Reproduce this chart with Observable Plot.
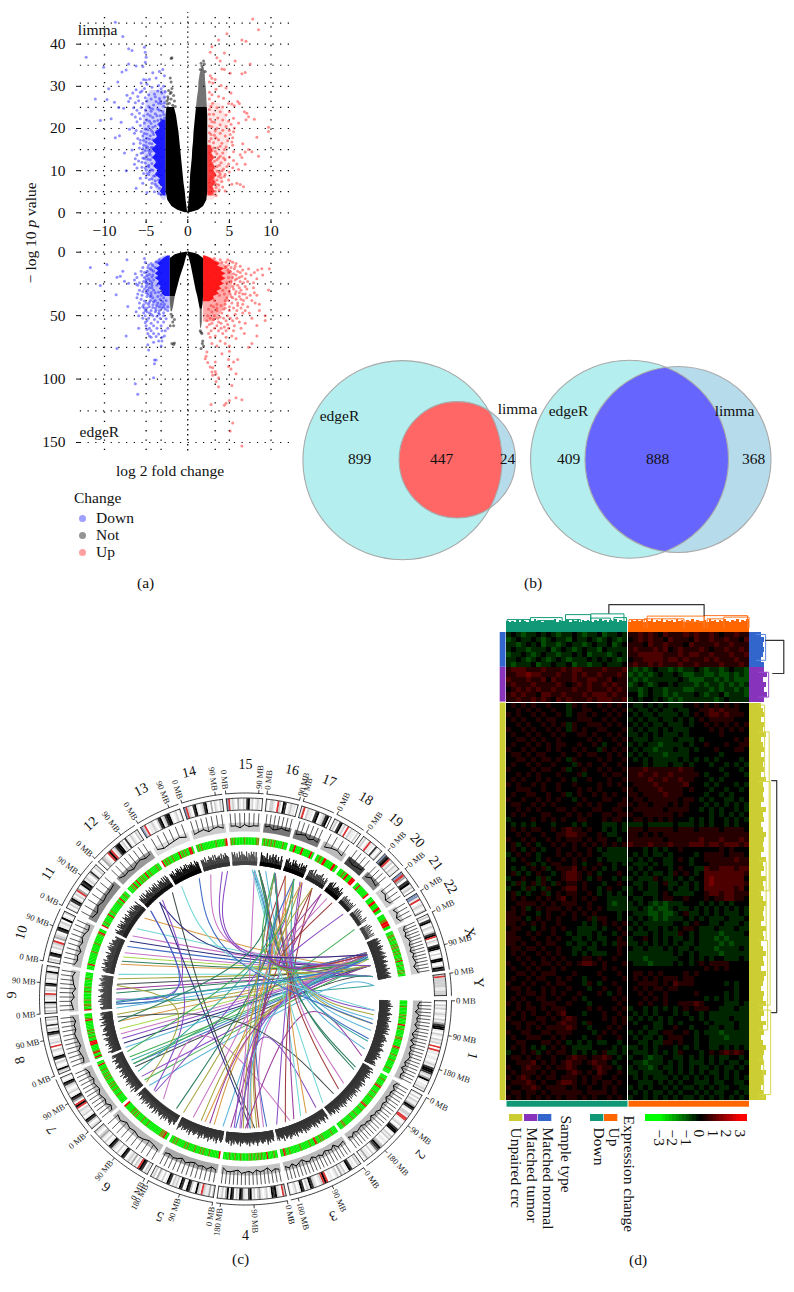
<!DOCTYPE html>
<html><head><meta charset="utf-8">
<script src="https://cdn.jsdelivr.net/npm/d3@7"></script>
<script src="https://cdn.jsdelivr.net/npm/@observablehq/plot@0.6"></script>
<style>
html,body{margin:0;padding:0;background:#fff}
#root{position:relative;width:794px;height:1292px;overflow:hidden;font-family:"Liberation Serif",serif;color:#111}
#root svg{position:absolute;overflow:visible}
.t{position:absolute;font-size:15.5px;white-space:nowrap;line-height:1}
.sw{position:absolute;width:7px;height:7px;border-radius:50%}
</style></head><body><div id="root"></div>
<script>
/* ---------- panel (a): volcano values ---------- */
const xTicks=[-10,-5,0,5,10];
const xGrid=[-10,-5,-3.2,3.3,5,10];
const limmaTicks=[0,10,20,30,40];
const limmaGrid=[0,5,10,15,20,25,30,35,40,45];
const edgeTicks=[0,50,100,150];
const edgeGrid=[0,25,50,75,100,125,150];

const limmaNotY=[0,0.6,1.5,3,5,7,9,11,13,15,17,19,21,23,25];
const limmaNotL1=[-0.3,-1.2,-1.9,-2.4,-2.6,-2.6,-2.6,-2.6,-2.6,-2.6,-2.6,-2.6,-2.6,-2.6,-2.5];
const limmaNotL2=[0,-0.05,-0.1,-0.2,-0.3,-0.45,-0.55,-0.65,-0.75,-0.85,-0.95,-1.05,-1.2,-1.35,-1.6];
const limmaNotR1=[0,0.05,0.1,0.15,0.25,0.3,0.35,0.45,0.55,0.6,0.7,0.75,0.85,0.95,1.05];
const limmaNotR2=[0.3,1.3,1.9,2.3,2.4,2.4,2.4,2.4,2.4,2.4,2.4,2.4,2.4,2.4,2.35];
const limmaNotTopY=[25,27,29,31,33,34.5];
const limmaNotTopL=[1.05,1.15,1.3,1.35,1.5,1.75];
const limmaNotTopR=[2.35,2.3,2.25,2.15,2.1,1.95];
const limmaNotSparse=[[-1.9,36.8],[-2,36.6],[-2.1,32],[-2,31],[-1.9,29.5],[-2.3,29],[-2.1,28.3],[-2.4,27.5],[-2,27],[-1.6,26.5],[-2.2,26],[-1.8,25.5],[-1.5,25.2],[-2.4,25],[-1.9,24.5],[-2.1,24],[-2.5,26.5],[-2.3,24.5],[-2,28.6],[-1.7,27.8],[-2.35,27],[-2.45,25.8],[1.6,35.5],[1.9,36],[1.7,34.8],[2,35.3],[1.5,34],[2.1,33.5]];
const limmaBlueOuterY=[3,5,8,11,14,17,20,23,26,29];
const limmaBlueOuterX=[-3,-3.6,-4.4,-5,-5.3,-5.4,-5.4,-5.2,-5,-4.5];
const limmaBlueCoreY=[4,5,6,7,8,9,10,11,12,13,14,15,16,17,18,19,20,21,22];
const limmaBlueCoreX=[-2.9,-3.3,-3,-3.5,-3.3,-3.9,-3.5,-4.1,-3.7,-4.2,-3.8,-4.3,-3.7,-4.2,-3.6,-3.9,-3.3,-3.5,-3];
const limmaRedOuterY=[3,5,8,11,14,17,20,23,26];
const limmaRedOuterX=[3.1,3.8,4.3,4.6,4.8,5,5,4.6,3.9];
const limmaRedCoreY=[4,5,6,7,8,9,10,11,12,13,14,15,16];
const limmaRedCoreX=[2.9,3.3,3,3.4,3.1,3.5,3.1,3.3,2.9,3.2,2.9,3,2.7];
const limmaDown=[[-12.2,36.9],[-11.1,27],[-10.1,34.5],[-10.5,21.9],[-8.7,45.2],[-7.8,41.8],[-7.1,38.9],[-6.7,38.5],[-5.2,39.3],[-5.1,38.1],[-5,36.9],[-5.1,35.7],[-7.1,35.3],[-7.9,33.4],[-7.4,33.9],[-8.4,31],[-9.5,29.4],[-9.7,26.9],[-8.8,26.2],[-8.3,25],[-9.2,22.3],[-8,21.5],[-8.2,18.3],[-8.7,17.8],[-7.4,10],[-7.6,14.2],[-6.2,34.8],[-5.4,34.7],[-3.0,34],[-3.4,33.5],[-2.8,32.5],[-4.2,33.2],[-3.8,32],[-4.6,31.7],[-5.0,31.5],[-5.3,31.6],[-5.6,30.8],[-4.9,30.5],[-3.5,30.2],[-2.9,30],[-4.3,29.8],[-5.2,29.5],[-6.2,29.2],[-5.7,28.6],[-3.1,28.4],[-4,28.2],[-4.7,28],[-6.6,28.4],[-7.3,27.9],[-6.9,27.2],[-6,27.6],[-5.1,27.3],[-5.9,26.6],[-4.4,27],[-3.4,27.1],[-3.8,26.4],[-2.8,27.4],[-4.9,26.5],[-6.3,26.1],[-7.1,26.4],[-5.4,25.9],[-4.1,25.6],[-3.2,25.9],[-2.9,25.3],[-4.7,25.2],[-5.6,25],[-6.5,24.9],[-7.7,24.8],[-6.1,24.3],[-5.1,24.4],[-3.6,24.6],[-4.4,24.1],[-3,24],[-5.8,23.6],[-6.7,23.4],[-4.8,23.4],[-3.9,23.5],[-5.3,23],[-6.3,22.7],[-3.3,23],[-4.2,22.6],[-5.7,22.3],[-2.8,22.5],[-4.9,22],[-3.6,21.9],[-6.1,21.6],[-5.2,21.3],[-4.4,21.2],[-3.1,21.4],[-5.7,20.7],[-6.6,20.2],[-7,19.8],[-4.7,20.5],[-3.9,20.6],[-5.1,19.9],[-6.2,19.5],[-5.6,19.3],[-4.4,19.6],[-6.4,18.9],[-4.9,18.7],[-5.4,18.2],[-4.1,18.6],[-6,17.6],[-5.7,17.2],[-4.6,17.5],[-5,16.8],[-6.5,16.4],[-5.3,16],[-4.3,16.4],[-5.8,15.4],[-4.8,15.5],[-6.7,14.9],[-5.1,14.8],[-4.4,14.6],[-5.6,14.1],[-6.1,13.7],[-4.9,13.5],[-5.4,13],[-6.3,12.8],[-4.5,12.6],[-5.9,12.3],[-5.1,11.8],[-6.4,11.5],[-4.7,11.3],[-6.1,10.6],[-5.5,10.8],[-5,10.1],[-4.4,10.2],[-5.3,9.3],[-4.7,9],[-4.1,8.7],[-5.7,8.2],[-4.6,7.9],[-3.9,7.6],[-4.3,7],[-6.2,5.8],[-3.7,6.3],[-3.4,5.8],[-4.9,4.8],[-4,5],[-3.5,4.6],[-3.2,4.3],[-4.4,6],[-4.5,13.7],[-4.2,15.5],[-3.9,27.5],[-5.5,28.9],[-4.5,24.8],[-3.3,26.5],
[-3.6,28.9],[-3.2,29.4],[-2.7,28.7],[-3.5,26],[-2.8,26.1],[-4.2,24.6],[-3.4,24.3],[-2.9,23.3],[-3.7,23],[-4.5,23],[-3.2,22.2],[-4,21.7],[-4.6,21.7],[-3.5,21],[-2.8,20.9],[-4.2,20.3],[-3.2,20],[-4.8,19.7],[-3.7,19.4],[-4.2,19.1],[-2.9,19.4],[-5.2,18.8],[-4.5,18.3],[-3.6,18.2],[-3.1,18.7],[-4.9,17.7],[-4.2,17.4],[-5.3,17.2],[-3.9,17],[-4.6,16.5],[-5.7,16.5],[-3.5,16.3],[-5,15.9],[-4.4,15.5],[-3.8,15.8],[-5.4,15.2],[-4.7,14.8],[-4,14.7],[-5.4,14.3],[-4.6,14.1],[-5.2,12.9],[-4.2,13.2],[-4.8,12.7],[-3.8,12.3],[-5.5,12],[-4.3,11.7],[-4.7,10.9],[-3.8,10.9],[-5.1,10.6],[-4.2,10.1],[-4.6,9.7],[-3.6,9.5],[-4.9,9.3],[-3.9,8.8],[-5,8.3],[-4.3,8.1],[-3.5,7.8],[-3.9,6.8],[-5.4,7],[-3.1,7]];
const limmaUp=[[7.8,46],[8.5,43.4],[4.7,42.5],[3.7,41],[6.5,41],[7,40.7],[2.9,39.4],[2.7,38.1],[4.4,37.9],[3.5,36.8],[3.9,36],[5.7,36],[7.5,35.3],[4.1,34.1],[4.4,34],[5.1,33.1],[6.5,33],[6.9,33.3],[2.7,32.5],[2.9,31.9],[3.3,31.6],[2.6,31],[3,30.8],[4,30.2],[4.6,29.6],[3.4,29.3],[2.6,28.6],[5.2,28.4],[2.9,28],[3.7,27.6],[4.3,27.2],[2.6,27],[6,26.4],[6.2,25.9],[5.3,25.8],[5.6,25.4],[3,26],[4.9,25.9],[2.8,25.3],[3.5,24.9],[4.2,25.1],[2.6,24.5],[6.8,24],[7.1,23.6],[5,24],[3.9,24],[3.1,23.4],[4.6,23.2],[7.3,22.8],[7,22.1],[3.6,22.5],[5.5,22.4],[2.7,22.2],[4.2,22],[4.9,21.7],[6.1,21.3],[3.2,21.5],[8,22.2],[5.2,21],[3.9,20.9],[4.6,20.5],[2.9,20.4],[5.6,20.1],[3.5,20],[4.2,19.6],[5,19.5],[9.7,20.3],[9.7,19.3],[5.5,19.2],[2.6,19],[3.9,18.9],[5.1,18.6],[3.2,18.4],[4.5,18.2],[5.4,17.8],[8.3,17.9],[2.8,17.6],[3.7,17.3],[4.8,17.1],[5.3,16.8],[3.1,16.6],[4.1,16.5],[6.6,16.4],[5.4,16],[2.7,15.8],[3.6,15.4],[4.6,15.6],[7.3,15],[7.7,14.5],[6.9,14.4],[5.5,14.5],[3.3,14.6],[4.2,14.2],[6.3,13.8],[8.5,13.4],[2.8,13.6],[5,13.2],[3.7,13],[6.5,13.1],[4.5,12.6],[5.5,12.4],[3.2,12.2],[4,11.9],[5.9,11.6],[4.9,11.6],[6.9,11.5],[3.5,11],[2.7,11.2],[5.4,10.7],[4.3,10.4],[6.1,10.3],[3,10],[3.8,9.6],[5,9.7],[4.5,9.1],[3.3,8.9],[2.8,8.6],[4,8.3],[3.5,7.8],[4.9,7.8],[5.9,7],[5.3,6.8],[6.7,6.2],[6.3,6.7],[3,6.9],[3.7,6.6],[4.2,6.1],[2.9,5.8],[3.3,5.1],[3.8,5.4],[2.6,4.9],[3,4.4],[3.4,4.1],[4.5,5.2],
[2.6,23.4],[2.9,21.6],[2.6,20.6],[3.3,19.4],[2.8,18.6],[3.4,17.8],[2.6,17],[3.1,15.4],[3.9,15.8],[2.9,14.7],[3.5,14],[4.4,15],[2.6,14.2],[3.1,13.2],[3.9,13.4],[2.7,12.5],[4.3,13],[3.5,12.6],[2.9,11.8],[3.8,11.3],[4.7,11],[3.2,10.6],[4.1,10],[3.5,9.9],[2.7,9.9],[3.1,9.3],[3.9,9.1],[4.4,8.6],[2.7,8],[3.1,8.2],[3.7,8.6],[3.2,7.4],[2.6,7.2],[4.1,7.4],[3.4,6.8],[2.7,6.2],[3.4,6]];

const edgeNotLY=[0,1,2,5,10,20,30,35];
const edgeNotL1=[-0.2,-1,-1.5,-2.1,-2.1,-2.1,-2.1,-2.1];
const edgeNotL2=[0,-0.03,-0.05,-0.2,-0.4,-0.9,-1.3,-1.5];
const edgeNotLTaperY=[35,39,43,47];
const edgeNotLTaperA=[-2.1,-2.1,-2.05,-2];
const edgeNotLTaperB=[-1.5,-1.6,-1.7,-1.85];
const edgeNotRY=[0,1,2,5,10,20,30,35,40,45];
const edgeNotR1=[0,0.03,0.05,0.2,0.4,0.7,1,1.2,1.35,1.5];
const edgeNotR2=[0.2,0.9,1.3,1.9,1.9,1.9,1.9,1.9,1.85,1.75];
const edgeNotRTaperY=[45,50,55,60];
const edgeNotRTaperA=[1.5,1.5,1.5,1.55];
const edgeNotRTaperB=[1.75,1.75,1.75,1.65];
const edgeNotSparse=[[-1.9,72],[-1.7,72.8],[-1.6,71.5],[-2.1,58],[-1.7,58],[-1.8,55],[-1.9,51],[-1.6,53],[-2,49],[1.75,72],[1.6,76],[1.8,70],[1.9,74],[1.6,63],[1.5,62],[1.7,64]];
const edgeBlueOuterY=[3,5,10,15,20,25,30,35,40,45];
const edgeBlueOuterX=[-2.7,-3.4,-4.3,-4.9,-5.1,-5.1,-5,-4.7,-4.2,-3.6];
const edgeBlueCoreY=[3,5,7,9,11,13,15,17,19,21,23,25,27,29,31,33,35];
const edgeBlueCoreX=[-2.4,-2.9,-3.2,-3.6,-3.3,-3.8,-3.5,-3.9,-3.5,-3.8,-3.4,-3.6,-3.2,-3.4,-3,-3.1,-2.7];
const edgeRedOuterY=[3,5,10,15,20,25,30,35,40,45,50,55];
const edgeRedOuterX=[2.2,3,4.5,5.3,5.5,5.4,5.2,5,4.7,4.3,3.8,3.2];
const edgeRedCoreY=[3,5,7,9,11,13,15,17,19,21,23,25,27,29,31,33,35,37,39];
const edgeRedCoreX=[2.1,2.8,3.2,3.9,3.6,4.4,4,4.6,4.1,4.6,4,4.4,3.8,4.1,3.5,3.8,3.1,3.2,2.6];
const edgeDown=[[-11.7,12],[-9.7,9.7],[-7.3,6],[-10.5,26.2],[-7.8,15],[-8.5,19.7],[-8.1,18.9],[-7.6,22.8],[-7.1,24.4],[-8.6,33.6],[-7.2,42.8],[-7.4,66],[-8.5,76],[-5.9,60],[-6.3,103.7],[-6,112],[-4.1,99],[-4,85],[-3.8,85],[-4,88],[-4.8,73],[-4.7,77],[-3.2,74],[-5.2,5],[-5.1,8],[-4.7,10],[-5.4,12],[-4.5,13],[-5.6,15],[-4.9,15],[-6.3,17],[-5.5,18],[-4.6,17.5],[-5.2,20],[-6.1,20],[-6.4,22],[-4.7,21],[-5.8,24],[-5,24],[-6,26],[-6.2,25],[-4.3,26],[-5.5,27],[-5.2,29],[-4.6,28],[-5.8,30],[-6,33],[-5,32],[-4.4,32],[-5.5,34],[-4.9,35],[-6.1,36],[-4.2,36],[-5.6,37],[-5.2,38.5],[-4.5,38],[-3.9,38],[-5,40],[-5.8,40],[-4.7,41],[-4.2,41.5],[-5.4,43],[-3.7,42],[-4.9,44],[-3.2,41],[-5.8,44],[-5.1,46],[-4.4,46],[-3.8,45.5],[-6.2,47],[-5.3,48],[-4.6,48],[-3.5,48],[-2.7,45],[-2.4,43],[-5.1,50],[-5.9,50],[-4.2,50],[-3.7,50.5],[-2.9,50],[-5.4,52],[-4.7,52],[-3.3,52],[-2.6,52.5],[-4,53],[-4.9,54],[-5.1,55.5],[-3.6,55],[-2.9,55],[-4.4,56],[-5,58],[-4.1,58],[-3.2,58],[-2.4,60],[-4.6,60],[-3.7,60],[-4.9,61],[-4.4,62],[-3.1,62],[-2.7,62],[-4.8,64],[-4.1,64],[-3.5,64.5],[-4.4,67],[-3.8,66.5],[-4.6,66],[-3.1,67],[-2.8,66],[-3.5,70],[-4.1,71],[-3.1,70],[-4.1,30],[-3.9,32],[-3.6,35],[-3.3,37],[-3,39],[-2.6,38],[-3.8,20],[-4.1,22],[-4.3,24],[-4.2,18],[-4.1,15],[-3.9,12],[-3.6,8],[-3.4,6],[-4.4,9],[-4.8,25],[-3.7,26],[-3.1,44],[-3.4,46],[-2.8,41],[-3.9,47],[-4.2,43.5],[-4.6,43],[-5.3,41.5],[-2.4,46],[-2.9,47.8],[-4.5,35],[-5.4,31],
[-3.4,49],[-4.4,49],[-4.9,47],[-3.9,44],[-3.4,43],[-2.9,43],[-5.2,44],[-4.6,39.5],[-3.6,40],[-2.9,36],[-4.1,39],[-3.2,34],[-4.4,34],[-4.8,33],[-3.5,31.5],[-4.8,30],[-4.3,28],[-5,27],[-4.5,22.5],[-5,22],[-5.3,23],[-4.3,19.5],[-4.9,18.5],[-5.2,16],[-4.3,14],[-4.8,12],[-4.2,10.5],[-3.8,7.5]];
const edgeUp=[[6.5,152.8],[5.1,141],[5.4,134.6],[2.8,120],[4.4,120.7],[4.6,119],[5,116.8],[5.8,114.7],[6.5,116.3],[3.7,106],[5.3,105],[5.8,95.8],[3.7,99],[3.3,94],[2.9,94.5],[2.7,90.5],[3,91],[2.1,84],[2.3,78.7],[2.2,82],[2.4,87],[3.3,86.6],[6,84.5],[5.5,86.6],[4.9,84.5],[4.1,80],[5,78],[7.3,75],[7.7,72],[3.4,96],[3,97],[3.4,102],[5.2,92],[4.9,90],[3.5,74],[2.9,72],[3.9,70],[4.5,72],[5,74],[4.6,67],[3.3,66],[2.5,64],[2.7,67],[4.2,64],[5.3,66],[5.8,68],[4,60],[3.2,60],[2.3,59],[4.9,60],[5.6,58],[6.4,60],[6.8,64],[8.3,66],[8.3,57.7],[9.3,50],[9.3,53.8],[7.7,52],[6.9,56],[6.2,55],[5.4,54],[4.6,54],[3.7,55],[2.9,56],[2.3,54],[7.4,48],[8.6,46],[6.6,48],[5.7,49],[4.8,50],[3.9,51],[3.2,50],[2.4,50],[6.4,44],[7.2,43],[5.5,44],[4.3,45],[3.5,46],[2.5,45],[9.7,29.7],[8.6,41],[8.1,40],[7.7,38],[6.7,38],[6,40],[5.3,40],[4.5,41],[8.3,34],[8,32],[7.5,34],[6.9,33],[6.2,35],[5.4,36],[4.7,36],[3.5,44],[7.1,29],[7.9,28],[6.4,30],[5.8,31],[5,31],[7.9,24],[8.3,21],[9,18],[8.9,13],[9.8,13],[8.4,14],[8,16],[7.6,18],[7.2,23],[6.7,24],[6,26],[5.4,27],[7,17],[6.5,19],[5.9,21],[5.2,23],[7.3,13],[6.6,14],[6,15],[5.5,17],[4.9,16],[6.3,11],[5.7,11],[5.2,12],[4.9,10],[4.5,12],[4.1,8],[5.4,8],[4.6,8],[4.8,6],[3.9,6],[3.2,5],[4.2,30],[4.4,33],[4.6,28],[3.8,34],[3.2,38],[2.8,42],[4.7,24],[4.9,20],[4.8,14],[4.5,38],
[3.5,41],[2.9,47],[4.1,48],[5,46],[5.9,46],[6.9,46],[4.5,44],[3.1,43],[5,43],[6,42],[6.6,41],[4,42],[4.9,38],[5.8,37],[6.4,37],[7.1,36],[5.2,35],[6.6,33],[5.7,33],[5.1,33],[6.2,32],[5.5,29],[6.2,28],[6.9,27],[5.6,25],[6.3,23],[5.7,22],[6.9,21],[6.2,20],[5.4,20],[5.8,18],[6.3,16],[5.1,15],[5.6,13],[4.6,11],[5.8,9],[5.1,7],[3.6,52],[4.3,52],[2.7,52],[5.1,52],[5.9,52],[3.1,53],[4,56],[4.8,57],[2.6,57],[3.5,58],[4.4,59],[2.8,62],[3.7,62],[4.6,62],[5.5,62]];

/* ---------- panel (b): Venn diagrams ---------- */
const vennCircles=[
 {name:"edgeR up",cx:402,cy:459.7,r:99.6},{name:"limma up",cx:456.8,cy:459.3,r:58.2},
 {name:"edgeR down",cx:629,cy:458.7,r:99},{name:"limma down",cx:677.5,cy:459,r:93}];
const vennLabels=[["edgeR",339,416],["limma",517,409],["899",359,459],["447",441,459],["24",507,459],
 ["edgeR",568,411],["limma",734,411],["409",568,459],["888",657,459],["368",753,459]];

/* ---------- panel (c): circos tracks ---------- */
const chromNames=["1","2","3","4","5","6","7","8","9","10","11","12","13","14","15","16","17","18","19","20","21","22","X","Y"];
const chromMb=[249,243,198,191,181,171,159,146,141,135,135,133,115,107,102,90,81,78,59,63,48,51,155,59];
const chromStart=[0.5,28.6,55,78.3,99.2,119.3,139.8,158,175.8,190.7,207,223,238.5,252,264.5,276,286.3,296.4,306,313.8,320.8,328.3,335,352.8];
const chromLabelAngle=[14,41.7,68,90,111.5,126.5,146,164.8,181,196.5,212.5,228.5,243.5,256,270,281.5,291,301,310,317.3,324.5,331.3,343.5,356];
const mbMarks=[0,90,180];
const bandCodes=[
"1021201210213566102102120r0r11011012156652136101121",
"102021136510221rr10120156610212011023654102011310",
"1201156102130210110r6r210125612056102101",
"2r012656102101320216511256120561630210",
"203112r1261025610560212056102013021",
"12056r1203121056102012561020132012",
"2102561021120r6r0356102101256101",
"126101205610120r0211025612051021",
"12031260112r0210561021126102",
"1205610212r032105611206102",
"1021562021r3016561210251021",
"103210r6r1256612051021021",
"b2r01121025612566101201",
"br21056101256103021021",
"br121031021561201210",
"102210r2065012110",
"1r0211056012560",
"12056120r0211020",
"1201r1105102",
"b56r120211",
"br3056120",
"bb1r012102",
"1205610210256r0210566102016610265",
"2r22222211222"];
const hotCodes=[
"ggggogggggogoggggrggogggggoogggggroggggogggogggggoggg",
"gggoggggorggggogggoggggggorgggoggggogggoggggggooggg",
"ggggoggggggogoggorgggoggggggogggggggoggorgg",
"ggoggggrgggogogoggogogggggogggogggogggg",
"rggggggogggogogggoggggogogggggogogg",
"ggroooggggggggggogggoggggogogogggggr",
"ggggggogggoggogogggogogoggogggrgg",
"grggroggggrrrggoggogoggggggroggg",
"rggooggogggggoggogggggogggg",
"gggrggggggggogggggoggggggorgg",
"rggogggggrggogggggggoggrgggogg",
"gggogrggrggogoggrggogggggogg",
"rgogoggoggggrgogoggrrg",
"gogogggggggggogggggor",
"ogoggggggogggggggoo",
"gogogogoggggogg",
"ggrgggrggggrg",
"gogrgggrg",
"ggogrggrr",
"ggrgggggggr",
"ggrggrg",
"ggorrg",
"gggooggogggogooggogogggogrgggogggogogg",
""];
const ridgeCodes=[
"65787968576897685796768859786957688976685768977685967564768",
"58697686957678596877695867976586957687968576869578676",
"685796758769685767886975867695876896785967685",
"57686957687569768579687657968768596877",
"6875968576976858697568769586768579",
"576987685796876859678685769768576",
"76958679687586976857986879688",
"7968579768957968876958697688",
"7868698797689679878968",
"68979897879689897867",
"8979989798979899879",
"89997989899798999",
"88979989799889798",
"88979899789897",
"99899798999",
"97989989",
"8979978989",
"78977978",
"78968797",
"66766",
"7868",
"6877",
"68797868978678968976896786797689789",
""];
const histCodes=[
"9785978697585968798685978",
"8697869789786978678697",
"7895876978698579697",
"8795786978967885",
"8697867968978",
"9768978697",
"8697896786879",
"878967897868",
"7896857897",
"9786979867",
"8697889",
"97868978",
"867897",
"7896897",
"8869788",
"8967988",
"789687",
"6897",
"8678",
"6987",
"8968",
"7968",
"9786897869789689",
""];
const histGray=["#bbb","#bbb","#bbb","#c4c4c4","#aaa","#bbb","#bbb","#bbb","#ccc","#bbb","#888","#999","#ddd","#ccc","#ccc","#777","#777","#bbb","#444","#888","#ccc","#ccc","#ccc","#fff"];
const ridgeInk=["#333","#333","#333","#333","#333","#333","#333","#333","#444","#333","#222","#111","#000","#333","#444","#000","#000","#222","#000","#222","#333","#444","#333","#333"];
const linkInks=["#35a59a","#8a4cc4","#43ad55","#a6a53f","#3f6cc4","#c774c4","#d99a45","#2d2d7d","#74d6d6","#3f4c4c","#a9d84c","#a03c3c","#5cb6da","#983c9c","#2f7f60"];
const linkHubs={R:[95,-25],C:[40,-5],T:[37,-47],B:[2,30],L:[-45,2],U:[0,-14],V:[-34,-36],S:[-40,16],P:[-51,0],W:[58,-23],N:[11,-2],M:[4,8]};
const links=[[218.8,339,"R",6],[213,340,"R",8],[209.2,341,"R",5],[206.6,340,"R",7],[204,345,"R",4],[199,341,"R",10],[195.6,339,"R",6],[191,350,"R",8],[186.6,339.6,"R",9],[184.4,350,"R",13],[182.7,345,"R",14],[177.8,354,"C",0],[176,340,"R",12],[173.2,345,"R",3],[166.7,340,"R",10],[164.4,339,"R",5],[162.3,341,"R",1],[160,345,"R",7],[153.4,339,"R",2],[151.8,340,"R",0],[148.5,350,"R",9],[143.3,339,"R",1],[141.2,345,"R",2],[138,354,"R",12],[201,339,"R",5],[189,342,"R",3],[197,340,"R",14],[170,339,"R",6],[158,341,"R",12],[150,340,"R",4],
[134.2,292,"T",1],[129.4,70,"P",5],[122.2,283,"T",14],[118.6,276,"T",3],[113.8,288,"T",5],[108.2,283.4,"T",6],[104,340,"M",6],[100,274,"T",12],[96.5,276,"T",13],[94.3,273,"T",4],[87.9,228.4,"S",7],[86,235.5,"S",9],[80.6,283,"B",4],[87,292,"B",6],[85,295.8,"B",3],[84,301,"B",11],[89,305.8,"B",13],[91,283,"B",3],[92.5,274,"B",5],[110,340,"M",3],[106,345,"M",13],[95,340,"M",1],[82,339,"M",5],[88,341,"M",12],
[5,283.4,"C",1],[7,276,"C",3],[11,283,"C",3],[14,288,"C",12],[17.8,274,"C",4],[22.7,283,"C",12],[26,90,"W",13],[31.7,276,"C",14],[40.6,288,"C",5],[47.1,172,"M",9],[53.3,273,"C",8],[57,92,"N",1],[64.7,274,"C",8],[68,296,"C",13],[72,301,"C",11],[33,283,"C",14],[19,292,"C",0],[9,279,"C",12],[76,295,"C",1],[62,288,"C",6],[44,283,"C",11],
[319,339,"U",1],[312,339,"U",11],[309,340,"U",5],[305.8,340,"U",13],[301,345,"U",3],[295.8,339,"U",6],[292,339,"U",4],[288,340,"U",11],[327.5,150,"M",2],[283,342,"U",2],
[240.4,5,"V",8],[249,11,"V",4],[254.4,340,"V",5],[259.6,350,"V",1],[262,345,"V",1],[228.4,340,"V",7],[222.9,135,"L",1],[177.8,222.9,"L",4],[180,230,"L",1],[186,140,"L",3],[178.5,341,"R",4],[179,350,"R",0],[156,292,"T",2],[146,283,"T",0],[170,276,"T",14]];

/* ---------- panel (d): heat map, one digit per cell, 3 meaning no change ---------- */
const heatGain=0.45;
const heatLeft=[
"232122323212232122312232","123223212322132232123212","221232312212322123223123","232212223123212322132222","122321232212232312221232","223212321232122232323212","212223122322312212232223",
"455544454445455444454445","445565544454454544544454","544454453544454455445344","454445444454345454454544","345454544544454454445454","454544355445444545554544","445445454354544454555445",
"343434334333243433434343","334343433433233443343434","434334343343234434334343","343433434433334443343433","334343343434243344434343","433434334343243433443334","343343433434334434334343","334434343343333343433434","343343434344334334323343","433434334343343433243434",
"344343443334334344334343","334434344343243333434334","343343433433324343343343","433334344334233433434334","334343433343334233343443","343433434334323343334334","434334343343343333434343","334443343343334343433334","343344334334234334343433","433433434343323433344334",
"344334343433334343433344","334343433344343334433443","343433344333434343344344","233334343434334433343443","323232333233323233322232","343434433434544343323232","334343343344554433432233","433434334343444343443323","342343233434343434343434","343234323343343343232222",
"234343233343434343322222","323433234334343433232222","333342323443343233433232","323234342344453434323233","342323433234554343233343","233433242334554323433232","324234243243443433323343","233242324334553433234332","342323342343443343232323","343433434345343434332222",
"334444343434443343332122","343423434443434343432222","443433234334343434333323","444323434343343342443323","443434343343333232343434","344332343434332222323343","443343433433232223233234","444334334343322323223343","443433434433232232323244","344344343343322322333343",
"343433434343323232223343","334343343434333443433433","433434344343434554343334","343343433434333333343433","334434344433343333433343","343343443343433233343334","433434334344333243233433","344343343433433323343343","334344343434334333432343","343433443343343233333434",
"434343344433433323333343","334344343444333343433434","343434334345333233343343","433433443434543333343434","344344343345443243333434","334343434444543323334343","433443344344433332343433","343344433434333233433343","334433344343232323223323","343432323434322223333232",
"233434234344323232342232","344343433433454434454323","334445343434544345443233","433454434344543334544323","343444343433454343543343","434543434434443434433433","344454343345543434344343","433445434444343343343433","344344343444444344443433","434343434343443434334343"];
const heatRight=[
"445454354445454454344544","345454435444354454454435","444354454443544445445444","454445453454445434454454","445555544454554454445445","344555545545444545444544","454454544454454444544454",
"212123221212232122123221","121212322321122112112121","212122222232111221212111","123212332322212122121212","221232212221122212122121","331232212122232122312221","232332321212222221232222",
"322323232223343434343433","232232322322334454544433","323223222232343455454443","232322322323234344444333","323232232223233434343434","232322323222333343434343","223232322232333333433333","322232222322232333333434","232322122223233433343344","323221222322323334333443",
"232322212222333333233333","323232222232323232333323","333232223223233323323232","444544444454433333233323","445445445444443233323332","444454454454433323233333","344445444445333232333232","434444544443433323323323","443444454443333233232333","344344444434432323322323",
"434434443434333232323232","344444434444332323233232","433444444343333323232323","344343434333232323323232","222322222322232323323233","444344444344434444344443","443434344444444444444444","444444434444445444544454","544454445444555455455545","333232323343333333434333",
"323232232333323444434443","232323322343233444444544","322232322333233344444444","232323332343322544555455","323232232434323555555554","232224322323233565555553","322322342232323565555554","232322332322323555555453","233222343222233455455444","322332344334333434455443",
"232321212223332323232333","223212112322323232323232","322211211234223232322232","232321212223232322232223","323222222332343322322232","232322323234432223222322","322232322243232222122223","233432323223232221212222","223232323232232222121222","322322232322322221222232",
"222222222323232222122222","222122222233232323322232","322212222323234344443333","333333333333333434343333","344343433334343333333333","343434344434433333333333","334444343544433333323233","343434434433333333333233","334343343333343333323233","333434343333333232323233",
"334343343344454333322232","233232323234344433222322","323232333232332322222222","232323232333232322223222","323332232323333232222322","333232233433233322322322","232322344334323222122222","323223234443323322212222","332232244343323322222222","223232333232323322323232",
"322232323243332343454543","233212233223232323223323","322122232323222323232232","232212322323232232322323","223222232323232322323233","323232223232323232323232","332223232323322232233223","232323323232232323223322","323232232323323232233232","233232323232232323232323"];
const topDendroLeft="656575765768675767685766757685767657686757685766";
const topDendroRight="576867576857685767586757685766758675768657685768";
const sideDendroBlue="5767657";
const sideDendroPurple="7968797";
const sideDendroYellow="56757685675767586767586756876758675867568767586756867587657686758675687675867568";
const brackets=[[0.13,4.76,-2.6],[4.76,11.05,-3],[6.1,9.4,-2.4],[11.7,16.7,-3.6],[11.7,14.7,-2.6],[16.7,23.3,-3.75],[16.7,20.6,-2.9],[21.3,23.8,-3]];
const bracketsOrange=[[24.3,27.9,-2.6],[27.9,39.2,-3.3],[27.3,35.2,-2.75],[35.2,39.2,-2.1],[39.2,47.8,-3.4],[39.8,43.1,-2.75],[43.1,48.1,-3.1]];
const barValues=[-3.96,-3.7,-3.45,-3.2,-2.95,-2.7,-2.45,-2.2,-1.95,-1.7,-1.45,-1.2,-0.95,-0.7,-0.45,-0.2,0.05,0.3,0.55,0.8,1.05,1.3,1.55,1.8,2.05,2.3,2.55,2.8,3.05,3.3];
const barTicks=[-3,-2,-1,0,1,2,3];
const sampleKey=[{c:"#cccc33",x:509},{c:"#8833bb",x:524},{c:"#3366cc",x:538}];
const exprKey=[{c:"#119977",x:590},{c:"#ff6600",x:604}];
const keyLabels=[["Sample type",565,1115],["Matched normal",547,1127],["Matched tumor",531,1127],["Unpaired crc",515,1127],["Expression change",628,1115],["Up",613,1127],["Down",598,1127]];

/* ---------- helpers ---------- */
const root=document.getElementById("root");
const font={fontFamily:"'Liberation Serif',serif",background:"transparent",color:"#111"};
const add=(el,l,t)=>{el.style.left=l+"px";el.style.top=t+"px";root.append(el);return el;};
const text=(s,l,t,css="")=>{const d=document.createElement("div");d.className="t";d.style.cssText=`left:${l}px;top:${t}px;${css}`;d.innerHTML=s;root.append(d);};
const pts=a=>a.map(([x,y])=>({x,y}));
const zipArea=(y,x1,x2)=>y.map((v,i)=>({y:v,x1:x1[i],x2:Array.isArray(x2)?x2[i]:x2}));
const band=(y,a,b,fill,fillOpacity=1)=>Plot.areaX(zipArea(y,a,b),{x1:"x1",x2:"x2",y:"y",fill,fillOpacity});

function volcanoMarks(cfg){
 return [
  Plot.ruleX(xGrid,{y1:cfg.y0,y2:cfg.y1,stroke:"#000",strokeWidth:1.3,strokeDasharray:"1.3 8"}),
  Plot.ruleX([0],{y1:cfg.y0,y2:cfg.y1,stroke:"#000",strokeWidth:1.3,strokeDasharray:"1.3 3.7"}),
  Plot.ruleY(cfg.grid,{x1:-12.9,x2:12.3,stroke:"#000",strokeWidth:1.2,strokeDasharray:"1.2 6.5"}),
  ...cfg.core,
  Plot.dot(pts(cfg.down),{x:"x",y:"y",r:1.5,fill:"#2020ff",fillOpacity:.5}),
  Plot.dot(pts(cfg.up),{x:"x",y:"y",r:1.5,fill:"#ff2020",fillOpacity:.5}),
  Plot.dot(pts(cfg.not),{x:"x",y:"y",r:1.5,fill:"#111",fillOpacity:.55}),
  ...cfg.not2,
  Plot.axisY(cfg.ticks,{tickSize:5,tickPadding:cfg.pad,fontSize:15.5,tickFormat:d=>d,anchor:"left",label:null}),
  ...(cfg.extra||[])
 ];
}

/* limma */
add(Plot.plot({width:290,height:240,marginLeft:81,marginBottom:21,marginTop:0,marginRight:0,style:font,
 x:{domain:[-10,10],range:[104,270.5],label:null},y:{domain:[0,45],range:[212.3,22.6],label:null},
 marks:volcanoMarks({y0:-2.5,y1:47.5,grid:limmaGrid,ticks:limmaTicks,pad:11,down:limmaDown,up:limmaUp,not:limmaNotSparse,
  core:[
   band(limmaBlueOuterY,limmaBlueOuterX,-2.6,"#3030ff",.22),
   band(limmaBlueCoreY,limmaBlueCoreX,-2.6,"#0c0cff",.92),
   band(limmaRedOuterY,limmaRedOuterX,2.4,"#ff3030",.12),
   band(limmaRedCoreY,limmaRedCoreX,2.4,"#ff1818",.8)],
  not2:[
   band(limmaNotY,limmaNotL1,limmaNotL2,"#000"),
   band(limmaNotY,limmaNotR1,limmaNotR2,"#000"),
   band(limmaNotTopY,limmaNotTopL,limmaNotTopR,"#000",.55)],
  extra:[
   Plot.axisX(xTicks,{tickSize:4,tickPadding:1,fontSize:15.5,anchor:"bottom",label:null}),
   Plot.text(["limma"],{x:-13.2,y:43.3,text:d=>d,fontSize:15.5,textAnchor:"start"})]
 })}),0,0);

/* edgeR */
add(Plot.plot({width:290,height:225,marginLeft:81,marginBottom:0,marginTop:0,marginRight:0,style:font,
 x:{domain:[-10,10],range:[104,270.5],axis:null},y:{domain:[0,150],range:[16.7,207],label:null},
 marks:volcanoMarks({y0:-6,y1:157,grid:edgeGrid,ticks:edgeTicks,pad:11,down:edgeDown,up:edgeUp,not:edgeNotSparse,
  core:[
   band(edgeBlueOuterY,edgeBlueOuterX,-2.1,"#3030ff",.3),
   band(edgeBlueCoreY,edgeBlueCoreX,-2.1,"#0c0cff",.92),
   band(edgeRedOuterY,edgeRedOuterX,1.9,"#ff3030",.4),
   band(edgeRedCoreY,edgeRedCoreX,1.9,"#ff1010",.95)],
  not2:[
   band(edgeNotLY,edgeNotL1,edgeNotL2,"#000"),
   band(edgeNotRY,edgeNotR1,edgeNotR2,"#000"),
   band(edgeNotLTaperY,edgeNotLTaperA,edgeNotLTaperB,"#000",.6),
   band(edgeNotRTaperY,edgeNotRTaperA,edgeNotRTaperB,"#000",.6)],
  extra:[Plot.text(["edgeR"],{x:-13,y:141.5,text:d=>d,fontSize:15.5,textAnchor:"start"})]
 })}),0,235);

text("log 2 fold change",116,463,"");
text("− log 10 <i>p</i> value",-24,225,"transform:rotate(-90deg);width:110px;text-align:center;");
text("Change",74,490);
[["Down","#2a2aff",518],["Not","#111",535],["Up","#ff2a2a",552]].forEach(([n,c,y])=>{
 const s=document.createElement("div");s.className="sw";s.style.cssText=`left:79px;top:${y-3.5}px;background:${c};opacity:.45`;root.append(s);
 text(n,96,y-8);
});

/* venn */
const clipTo=(circle,id)=>(index,scales,values,dims,ctx,next)=>{
 const g=next(index,scales,values,dims,ctx);
 const cp=d3.create("svg:clipPath").attr("id",id);
 cp.append("circle").attr("cx",scales.x(circle.cx)).attr("cy",scales.y(circle.cy)).attr("r",circle.r);
 g.prepend(cp.node());g.setAttribute("clip-path",`url(#${id})`);
 return g;};
const [vE1,vL1,vE2,vL2]=vennCircles;
add(Plot.plot({width:500,height:240,margin:0,style:font,
 x:{domain:[290,790],range:[0,500],axis:null},y:{domain:[340,580],range:[0,240],axis:null},r:{type:"identity"},
 marks:[
  Plot.dot([vE1,vE2],{x:"cx",y:"cy",r:"r",fill:"#b5eeee"}),
  Plot.dot([vL1,vL2],{x:"cx",y:"cy",r:"r",fill:"#b6dcec"}),
  Plot.dot([vL1],{x:"cx",y:"cy",r:"r",fill:"#ff6666",render:clipTo(vE1,"clipUp")}),
  Plot.dot([vL2],{x:"cx",y:"cy",r:"r",fill:"#6666ff",render:clipTo(vE2,"clipDown")}),
  Plot.dot(vennCircles,{x:"cx",y:"cy",r:"r",stroke:"#a9a9a9",strokeWidth:1.1}),
  Plot.text(vennLabels,{x:d=>d[1],y:d=>d[2],text:d=>d[0],fontSize:15.5,fill:"#111"})
 ]}),290,340);

/* circos */
const chromEnd=chromStart.map((s,i)=>i<23?chromStart[i+1]-1.1:359);
const rad=a=>a*Math.PI/180;
const pol=(a,r)=>({x:r*Math.cos(rad(a)),y:r*Math.sin(rad(a))});
const frac=(i,f)=>chromStart[i]+f*(chromEnd[i]-chromStart[i]);
const arcPts=(a0,a1,r)=>{const n=Math.max(2,Math.ceil((a1-a0)/1.2)+1);return d3.range(n).map(k=>pol(a0+(a1-a0)*k/(n-1),r));};
const ideo=[],hot=[],ridge=[],ridgeBase=[],shell=[],rimTicks=[],mbLabels=[],histBand=[],histLine=[],histTick=[],chromLabels=[];
chromNames.forEach((name,i)=>{
 const s=bandCodes[i];
 const inkFor={"0":"#fff","1":"#ececec","2":"#cfcfcf","3":"#a8a8a8","4":"#777","5":"#333","6":"#000",r:"#dd3333",b:"#8294b8"};
 [...s].forEach((c,j)=>{
  arcPts(frac(i,j/s.length),frac(i,(j+1)/s.length)+.05,195).forEach(p=>ideo.push({...p,id:i+"-"+j,ink:inkFor[c]}));
 });
 [189,201].forEach(r=>arcPts(chromStart[i],chromEnd[i],r).forEach(p=>shell.push({...p,id:i+"s"+r})));
 [chromStart[i],chromEnd[i]].forEach((a,k)=>{shell.push({...pol(a,189),id:i+"e"+k});shell.push({...pol(a,201),id:i+"e"+k});});
 arcPts(chromStart[i],chromEnd[i],206).forEach(p=>shell.push({...p,id:i+"rim"}));
 const mbAngle=mb=>frac(i,mb/chromMb[i]);
 mbMarks.filter(m=>m<=chromMb[i]).forEach(m=>{
  const a=mbAngle(m),p=pol(a,206),q=pol(a,209.5),t=pol(a,210.5);
  rimTicks.push({x1:p.x,y1:p.y,x2:q.x,y2:q.y});
  const left=a>90&&a<270;
  mbLabels.push({...t,text:m+" MB",rot:left?a-180:a,left});
 });
 const labelA=chromLabelAngle[i];
 chromLabels.push({...pol(labelA,name==="4"?237:234),text:name,rot:name==="4"?0:labelA+90});
 const h=hotCodes[i];
 const hotInk={g:"#00ee00",o:"#7a8a00",r:"#ee0000"};
 [...h].forEach((c,j)=>arcPts(frac(i,j/h.length),frac(i,(j+1)/h.length)+.04,158).forEach(p=>hot.push({...p,id:i+"h"+j,ink:hotInk[c]})));
 const rd=ridgeCodes[i];
 [...rd].forEach((c,j)=>{
  const a=frac(i,(j+.25)/rd.length),b=frac(i,(j+.75)/rd.length);
  ridge.push({...pol(a,134),id:i+"z",ink:ridgeInk[i]});
  ridge.push({...pol(a,133+(+c)*1.6),id:i+"z",ink:ridgeInk[i]});
  ridge.push({...pol(b,134),id:i+"z",ink:ridgeInk[i]});
  ridge.push({...pol(b,135+(+"9768"[j%4])*1.1),id:i+"z",ink:ridgeInk[i]});
 });
 if(rd) arcPts(chromStart[i],chromEnd[i],136).forEach(p=>ridgeBase.push({...p,id:i+"r",ink:ridgeInk[i]}));
 const ht=histCodes[i];
 if(ht){
  arcPts(chromStart[i],chromEnd[i],172).forEach(p=>histBand.push({...p,id:i+"b",ink:histGray[i]}));
  [...ht].forEach((c,j)=>{const a=frac(i,(j+.5)/ht.length),base=pol(a,165+(+c)*1.05),top=pol(a,186);
   histLine.push({...base,id:i});histTick.push({x1:base.x,y1:base.y,x2:top.x,y2:top.y});});
 }
});
const linkRows=links.flatMap(([a,b,h,c],i)=>{const A=pol(a,129),B=pol(b,129),[hx,hy]=linkHubs[h];const H={x:hx,y:hy};
 return [A,H,B].map(p=>({...p,id:i,ink:linkInks[c]}));});
add(Plot.plot({width:490,height:500,margin:0,style:font,color:{type:"identity"},
 x:{domain:[-245,245],range:[0,490],axis:null},y:{domain:[-248.5,251.5],range:[0,500],axis:null},
 marks:[
  Plot.line(ideo,{x:"x",y:"y",z:"id",stroke:"ink",strokeWidth:11.5,strokeLinecap:"butt"}),
  Plot.line(shell,{x:"x",y:"y",z:"id",stroke:"#111",strokeWidth:.8}),
  Plot.link(rimTicks,{x1:"x1",y1:"y1",x2:"x2",y2:"y2",stroke:"#111",strokeWidth:.8}),
  Plot.text(mbLabels.filter(d=>!d.left),{x:"x",y:"y",text:"text",rotate:"rot",textAnchor:"start",fontSize:8.5,fill:"#222"}),
  Plot.text(mbLabels.filter(d=>d.left),{x:"x",y:"y",text:"text",rotate:"rot",textAnchor:"end",fontSize:8.5,fill:"#222"}),
  Plot.text(chromLabels,{x:"x",y:"y",text:"text",rotate:"rot",fontSize:14,fill:"#111"}),
  Plot.line(histBand,{x:"x",y:"y",z:"id",stroke:"ink",strokeWidth:9,strokeLinecap:"butt"}),
  Plot.link(histTick,{x1:"x1",y1:"y1",x2:"x2",y2:"y2",stroke:"#111",strokeWidth:.7}),
  Plot.line(histLine,{x:"x",y:"y",z:"id",stroke:"#000",strokeWidth:1}),
  Plot.line(hot,{x:"x",y:"y",z:"id",stroke:"ink",strokeWidth:7.5,strokeLinecap:"butt"}),
  Plot.line(ridgeBase,{x:"x",y:"y",z:"id",stroke:"ink",strokeWidth:4,strokeLinecap:"butt"}),
  Plot.line(ridge,{x:"x",y:"y",z:"id",stroke:"ink",strokeWidth:.85}),
  Plot.line(linkRows,{x:"x",y:"y",z:"id",stroke:"ink",strokeWidth:1.05,curve:"basis"})
 ]}),0,750);

/* heat map */
const cells=[];
heatLeft.forEach((s,i)=>{const y=i<14?i:i+.2;
 [...s].forEach((c,j)=>cells.push({x1:j,x2:j+1,y1:y,y2:y+1,v:(+c-3)*heatGain}));
 [...heatRight[i]].forEach((c,j)=>cells.push({x1:24.2+j,x2:25.2+j,y1:y,y2:y+1,v:(+c-3)*heatGain}));
});
const rowCount=heatLeft.length+.2;
const dendroCols=(s,x0)=>[...s].map((c,j)=>({x1:x0+j/2,x2:x0+(j+1)/2,y1:-(1+(+c)*.2),y2:0}));
const dendroRows=(s,y0,dy)=>[...s].map((c,j)=>({y1:y0+j*dy,y2:y0+(j+1)*dy,x1:48.2,x2:48.2+.9+(+c)*.3}));
const bracket=(list)=>list.flatMap(([a,b,h],i)=>[{x:a,y:-1,id:i},{x:a,y:h,id:i},{x:b,y:h,id:i},{x:b,y:-1,id:i}]);
const yellowBr=[[51.2,14.6,30],[52.1,20,52],[51.5,46,62],[52.3,30,75],[51.8,62,80],[52.4,76,93],[51,86,93.6]];
const crisp={shapeRendering:"crispEdges"};
add(Plot.plot({width:304,height:515,margin:0,style:font,color:{type:"linear",domain:[-3,0,3],range:["#00ff00","#000000","#ff0000"],clamp:true},
 x:{domain:[0,48.2],range:[16,259],axis:null},y:{domain:[0,rowCount],range:[37,505],axis:null},
 marks:[
  Plot.rect(cells,{x1:"x1",x2:"x2",y1:"y1",y2:"y2",fill:"v",...crisp}),
  Plot.rect(dendroCols(topDendroLeft,0),{x1:"x1",x2:"x2",y1:"y1",y2:"y2",fill:"#119977",...crisp}),
  Plot.rect(dendroCols(topDendroRight,24.2),{x1:"x1",x2:"x2",y1:"y1",y2:"y2",fill:"#ff6600",...crisp}),
  Plot.line(bracket(brackets),{x:"x",y:"y",z:"id",stroke:"#119977",strokeWidth:1}),
  Plot.line(bracket(bracketsOrange),{x:"x",y:"y",z:"id",stroke:"#ff7722",strokeWidth:1}),
  Plot.line([{x:20.3,y:-3.9},{x:20.3,y:-5.6},{x:39.2,y:-5.6},{x:39.2,y:-3.4}],{x:"x",y:"y",stroke:"#333",strokeWidth:1.2}),
  Plot.rect(dendroRows(sideDendroBlue,0,1),{x1:"x1",x2:"x2",y1:"y1",y2:"y2",fill:"#3366cc",...crisp}),
  Plot.rect(dendroRows(sideDendroPurple,7,1),{x1:"x1",x2:"x2",y1:"y1",y2:"y2",fill:"#8833bb",...crisp}),
  Plot.rect(dendroRows(sideDendroYellow,14.2,1),{x1:"x1",x2:"x2",y1:"y1",y2:"y2",fill:"#cccc33",...crisp}),
  Plot.rect([[0,7]],{x1:-1.25,x2:-.1,y1:d=>d[0],y2:d=>d[1],fill:"#3366cc"}),
  Plot.rect([[7,14]],{x1:-1.25,x2:-.1,y1:d=>d[0],y2:d=>d[1],fill:"#8833bb"}),
  Plot.rect([[14.2,rowCount]],{x1:-1.25,x2:-.1,y1:d=>d[0],y2:d=>d[1],fill:"#cccc33"}),
  Plot.rect([[.1,24.1]],{x1:d=>d[0],x2:d=>d[1],y1:rowCount+.15,y2:rowCount+1.35,fill:"#119977"}),
  Plot.rect([[24.3,48.2]],{x1:d=>d[0],x2:d=>d[1],y1:rowCount+.15,y2:rowCount+1.35,fill:"#ff6600"}),
  Plot.line([{x:49.5,y:.4},{x:51.4,y:.4},{x:51.4,y:5.6},{x:49.5,y:5.6}],{x:"x",y:"y",stroke:"#5a86dd",strokeWidth:1}),
  Plot.line([{x:50,y:8},{x:52,y:8},{x:52,y:13},{x:50,y:13}],{x:"x",y:"y",stroke:"#9a50cc",strokeWidth:1}),
  ...yellowBr.map(([x,a,b])=>Plot.line([{x:50,y:a},{x,y:a},{x,y:b},{x:50,y:b}],{x:"x",y:"y",stroke:"#d6d64e",strokeWidth:1})),
  Plot.line([{x:51.4,y:1.6},{x:55,y:1.6},{x:55,y:8.25},{x:52.8,y:8.25}],{x:"x",y:"y",stroke:"#333",strokeWidth:1.2}),
  Plot.line([{x:52.6,y:29.8},{x:53.6,y:29.8},{x:53.6,y:76.5},{x:52.6,y:76.5}],{x:"x",y:"y",stroke:"#333",strokeWidth:1.2})
 ]}),490,595);

/* heat map keys */
add(Plot.plot({width:304,height:165,margin:0,style:font,color:{type:"identity"},
 x:{domain:[490,794],range:[0,304],axis:null},y:{domain:[1108,1273],range:[0,165],axis:null},
 marks:[
  Plot.rect([...sampleKey,...exprKey],{x1:"x",x2:d=>d.x+13.3,y1:1114,y2:1121,fill:"c"}),
  Plot.text(keyLabels,{x:d=>d[1],y:d=>d[2],text:d=>d[0],rotate:90,textAnchor:"start",fontSize:15.5,fill:"#111"})
 ]}),490,1108);
add(Plot.plot({width:120,height:50,margin:0,style:font,
 color:{type:"linear",domain:[-3,0,3],range:["#00ff00","#000000","#ff0000"],clamp:true},
 x:{domain:[-3,3],range:[18,99],axis:null},y:{domain:[0,1],range:[4,11],axis:null},
 marks:[
  Plot.rect(barValues,{x1:d=>d,x2:d=>d+.27,y1:0,y2:1,fill:d=>d,...crisp}),
  Plot.text(barTicks,{x:d=>d,y:1,dy:8,text:d=>d3.format("d")(d),rotate:90,textAnchor:"start",fontSize:15.5,fill:"#111"})
 ]}),640,1110);

/* panel captions */
text("(a)",137,575);text("(b)",524,575);text("(c)",232,1251);text("(d)",629,1252);
</script></body></html>
